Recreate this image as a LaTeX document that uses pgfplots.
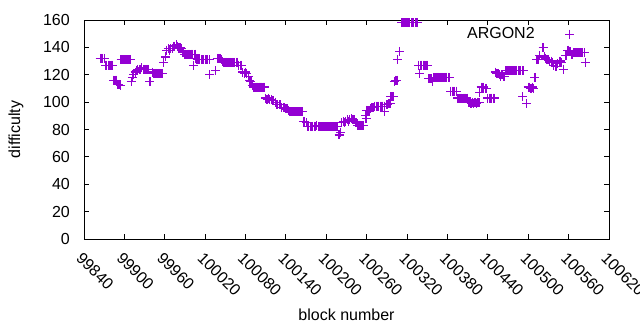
\documentclass[border=0pt]{standalone}
\usepackage{fontspec}
\setmainfont{Liberation Sans}
\usepackage{pgfplots}
\pgfplotsset{compat=1.18}
\definecolor{dv}{HTML}{9400D3}
\begin{document}
\fontsize{16bp}{19bp}\selectfont
\begin{tikzpicture}
\begin{axis}[
  scale only axis, width=525bp, height=219bp,
  xmin=99840, xmax=100620, ymin=0, ymax=160,
  clip=false,
  scaled x ticks=false, scaled y ticks=false,
  xtick={99840,99900,99960,100020,100080,100140,100200,100260,100320,100380,100440,100500,100560,100620},
  xticklabels={99840,99900,99960,100020,100080,100140,100200,100260,100320,100380,100440,100500,100560,100620},
  ytick={0,20,40,60,80,100,120,140,160},
  yticklabels={0,20,40,60,80,100,120,140,160},
  tick align=inside,
  major tick length=5bp,
  axis line style={line width=0.9bp},
  every tick/.style={black, line width=0.9bp},
  xticklabel style={rotate=-45, anchor=north west, inner sep=0bp, yshift=-9bp, xshift=8bp},
  yticklabel style={anchor=east, inner sep=0bp, xshift=-14bp},
  xlabel={block number}, ylabel={difficulty},
  every axis x label/.style={at={(rel axis cs:0.5,0)}, yshift=-76bp, anchor=center},
  every axis y label/.style={at={(rel axis cs:0,0.5)}, xshift=-68bp, rotate=90, anchor=center},
  legend plot pos=right,
  legend style={draw=none, fill=none, at={(0.935,0.935)}, anchor=east, inner sep=0bp,
    nodes={inner sep=0bp}},
  legend image code/.code={\path[draw=none,fill=none] (0bp,-4bp) rectangle (40bp,4bp);
    \draw plot coordinates {(35bp,0bp)};},
]
\addplot[only marks, mark=+, mark size=4.5bp, draw=dv, color=dv, line width=1.2bp,
  mark options={draw=dv, solid, line width=1.2bp}] coordinates {
(99864,132)(99866,132)(99868,132)(99870,132)
(99872,127)(99874,127)(99876,127)(99878,127)(99880,127)(99882,127)
(99884,116)(99886,116)(99888,116)
(99890,113)(99892,113)(99894,112)
(99895,131)(99897,131)(99899,131)(99901,131)(99903,131)(99905,131)(99907,131)(99909,131)
(99910,115)(99912,118)(99914,120)(99916,122)(99918,123)
(99920,124)(99922,124)(99924,124)(99926,125)(99928,124)(99930,124)(99932,124)(99934,124)(99936,124)
(99938,115)
(99942,122)(99944,121)(99946,121)(99948,121)(99950,121)(99952,121)(99954,121)(99956,121)
(99958,129)(99961,133)
(99963,138)(99965,139)(99967,138)(99969,139)(99971,139)
(99973,141)(99975,141)(99977,142)(99979,141)
(99981,140)(99983,140)(99985,139)
(99987,136)(99989,135)(99991,135)(99993,135)(99995,135)(99997,135)(99999,135)(100001,135)
(100003,127)(100005,135)
(100006,132)(100008,131)(100010,131)(100012,131)(100014,131)(100016,131)(100018,131)(100020,131)(100022,131)(100024,131)(100026,131)
(100027,120)(100035,123)
(100038,132)(100040,132)(100042,132)(100044,131)
(100046,130)(100048,129)(100050,129)(100052,129)(100054,129)(100056,129)(100058,129)(100060,129)(100062,129)(100064,129)(100066,129)(100068,129)
(100070,127)(100072,127)(100074,127)
(100076,122)(100078,121)(100080,122)(100082,121)(100084,119)
(100086,116)(100088,115)
(100090,112)(100092,111)(100094,111)(100096,111)(100098,111)(100100,111)(100102,111)(100104,111)(100106,111)(100108,111)
(100110,103)(100112,102)(100114,103)(100116,102)(100118,102)
(100120,101)(100122,101)(100124,100)(100126,98)(100128,98)(100130,98)(100132,98)
(100134,96)(100136,96)(100138,96)(100140,95)(100142,95)(100144,94)
(100146,93)(100148,93)(100150,93)(100152,93)(100154,93)(100156,93)(100158,93)(100160,93)(100162,93)(100164,93)
(100166,86)(100168,86)(100170,85)
(100172,82)(100174,82)(100176,82)(100178,82)(100180,82)(100182,82)(100184,82)(100186,83)(100188,82)(100190,82)(100192,82)(100194,82)(100196,82)(100198,82)(100200,82)(100202,82)(100204,82)(100206,82)(100208,82)(100210,82)(100212,82)(100214,82)(100216,82)
(100219,76)(100221,78)
(100223,85)(100225,86)(100227,85)(100229,86)
(100231,87)(100233,86)(100235,87)(100237,88)(100239,87)(100241,87)
(100243,85)(100245,85)
(100247,83)(100249,83)(100251,83)(100253,83)(100255,83)
(100258,90)(100259,88)
(100260,94)(100262,94)(100264,94)(100266,95)
(100268,96)(100270,96)
(100272,97)(100274,97)(100276,97)(100278,97)(100280,97)(100282,97)(100284,97)(100286,97)
(100287,93)
(100289,98)(100291,98)(100293,99)(100295,99)
(100296,104)(100298,104)(100300,104)(100301,115)(100303,116)(100305,116)
(100306,131)(100309,137)
(100312,158)(100314,158)(100316,158)(100318,158)(100320,158)(100322,158)(100324,158)(100326,158)(100328,158)(100330,158)(100332,158)(100334,158)(100336,158)
(100337,127)(100339,121)(100340,127)(100342,127)(100344,127)(100346,127)(100348,127)(100350,127)
(100352,117)(100354,117)(100356,117)
(100358,115)
(100359,118)(100361,118)(100363,118)(100365,118)(100367,118)(100369,118)(100371,118)(100373,118)(100375,118)(100377,118)(100379,118)(100381,118)(100383,118)
(100385,108)(100387,108)(100389,108)(100391,108)(100393,108)
(100395,103)(100397,103)(100399,103)(100401,103)(100403,103)(100405,103)(100407,103)(100409,103)
(100411,100)(100413,100)(100415,99)(100417,100)(100419,99)(100421,100)(100423,99)(100425,100)(100427,100)
(100428,107)
(100430,111)(100432,111)(100434,111)(100436,110)(100438,110)
(100440,103)(100442,103)(100444,103)(100446,103)(100448,103)(100450,103)
(100451,122)(100453,121)(100455,121)
(100457,120)(100459,119)(100461,120)(100463,119)(100465,119)
(100467,123)(100469,123)(100471,123)(100473,123)(100475,123)(100477,123)(100479,123)(100481,123)(100483,123)(100485,123)(100487,123)(100489,123)(100491,123)(100493,123)
(100492,104)(100498,99)
(100500,111)(100502,111)(100504,110)(100506,111)(100508,110)
(100510,118)
(100513,131)(100515,131)(100517,134)
(100522,140)
(100524,133)(100526,132)(100528,131)(100530,131)(100532,130)(100534,130)(100536,129)
(100538,127)(100540,126)(100542,126)(100544,128)
(100546,130)(100548,130)(100550,129)
(100552,124)
(100555,134)(100557,134)
(100559,138)(100561,137)(100563,137)
(100565,135)(100567,136)(100569,136)(100571,136)(100573,136)(100575,136)(100577,136)(100579,136)(100581,136)(100583,136)
(100585,129)
};
\addlegendentry{ARGON2}
\end{axis}
\pgfresetboundingbox
\path ([xshift=-84bp,yshift=-91bp]current axis.south west) rectangle ([xshift=31bp,yshift=20bp]current axis.north east);
\end{tikzpicture}
\end{document}
